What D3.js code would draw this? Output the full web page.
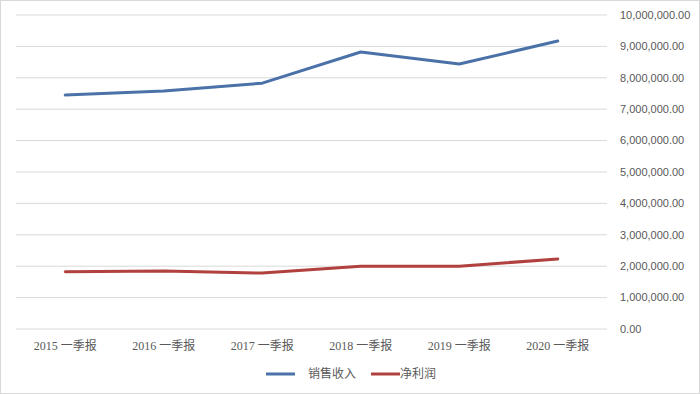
<!DOCTYPE html>
<html lang="zh">
<head>
<meta charset="UTF-8">
<title>销售收入与净利润</title>
<script src="https://d3js.org/d3.v7.min.js"></script>
<style>
    body { margin: 0; background: white; }
    svg { display: block; }
</style>
</head>
<body>
<svg width="700" height="394" id="chart"></svg>
<script>
    // data
    const periods = ["2015 一季报", "2016 一季报", "2017 一季报", "2018 一季报", "2019 一季报", "2020 一季报"];
    const sales = [7450000, 7580000, 7830000, 8820000, 8440000, 9170000];
    const profit = [1820000, 1850000, 1780000, 2000000, 2000000, 2230000];
    const yTicks = [0, 1e6, 2e6, 3e6, 4e6, 5e6, 6e6, 7e6, 8e6, 9e6, 10e6];
    const seriesNames = ["销售收入", "净利润"];
    const colors = ["#4a72a8", "#b0413e"];

    const svg = d3.select("#chart");

    svg.append("rect")
        .attr("x", 0.5).attr("y", 0.5)
        .attr("width", 699).attr("height", 393)
        .attr("fill", "white")
        .attr("stroke", "#d9d9d9");

    const x = d3.scaleBand().domain(periods).range([16, 607]);
    const y = d3.scaleLinear().domain([0, 10e6]).range([329, 15]);

    // gridlines
    svg.append("g").selectAll("line")
        .data(yTicks)
        .join("line")
        .attr("x1", 16).attr("x2", 607)
        .attr("y1", d => y(d)).attr("y2", d => y(d))
        .attr("stroke", "#d9d9d9")
        .attr("stroke-width", 1);

    // right axis labels
    const fmt = d3.format(",.2f");
    svg.append("g").selectAll("text")
        .data(yTicks)
        .join("text")
        .attr("x", 620)
        .attr("y", d => y(d))
        .attr("dy", "0.35em")
        .attr("font-family", "Liberation Sans, Arial, sans-serif")
        .attr("font-size", 11)
        .attr("fill", "#595959")
        .text(d => fmt(d));

    // x labels
    svg.append("g").selectAll("text")
        .data(periods)
        .join("text")
        .attr("x", d => x(d) + x.bandwidth() / 2)
        .attr("y", 350)
        .attr("text-anchor", "middle")
        .attr("font-family", "Liberation Serif, Noto Sans CJK SC, serif")
        .attr("font-size", 12)
        .attr("fill", "#595959")
        .text(d => d);

    const line = d3.line()
        .x((d, i) => x(periods[i]) + x.bandwidth() / 2)
        .y(d => y(d));

    [sales, profit].forEach((s, i) => {
        svg.append("path")
            .datum(s)
            .attr("d", line)
            .attr("fill", "none")
            .attr("stroke", colors[i])
            .attr("stroke-width", 3)
            .attr("stroke-linejoin", "round")
            .attr("stroke-linecap", "round");
    });

    // legend
    const legendItems = [
        { x1: 266, x2: 295, tx: 308 },
        { x1: 371, x2: 400, tx: 400 }
    ];
    legendItems.forEach((d, i) => {
        svg.append("line")
            .attr("x1", d.x1).attr("x2", d.x2)
            .attr("y1", 374).attr("y2", 374)
            .attr("stroke", colors[i])
            .attr("stroke-width", 3);
        svg.append("text")
            .attr("x", d.tx)
            .attr("y", 374)
            .attr("dy", "0.35em")
            .attr("font-family", "Noto Sans CJK SC, sans-serif")
            .attr("font-size", 12)
            .attr("fill", "#595959")
            .text(seriesNames[i]);
    });
</script>
</body>
</html>
